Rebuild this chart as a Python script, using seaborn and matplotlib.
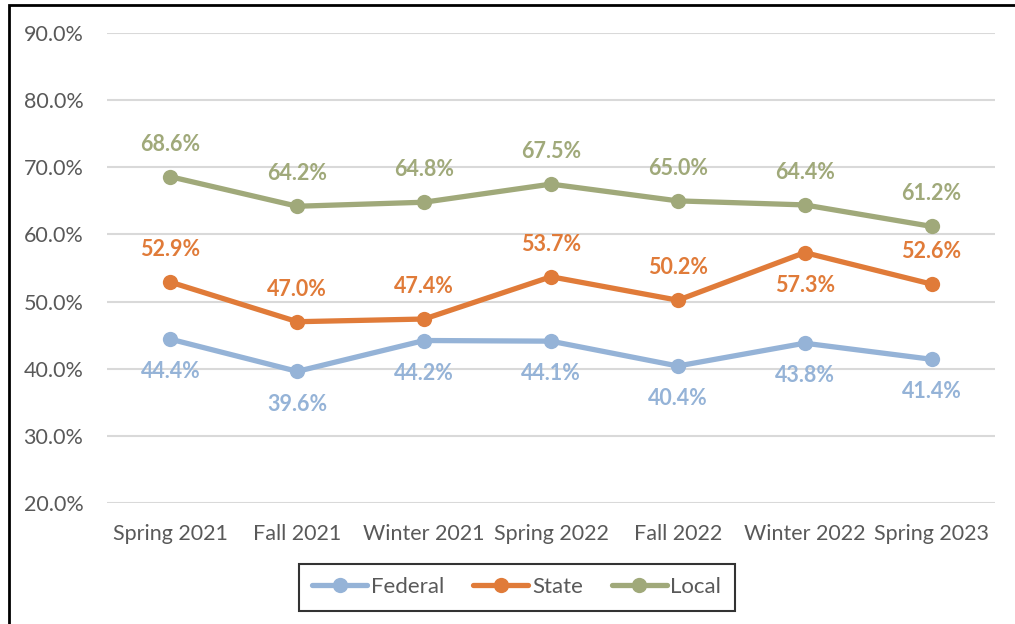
import pandas as pd
import numpy as np
import matplotlib.pyplot as plt
import matplotlib.patches as patches
import seaborn as sns

periods = ['Spring 2021', 'Fall 2021', 'Winter 2021', 'Spring 2022',
           'Fall 2022', 'Winter 2022', 'Spring 2023']
federal = [44.4, 39.6, 44.2, 44.1, 40.4, 43.8, 41.4]
state = [52.9, 47.0, 47.4, 53.7, 50.2, 57.3, 52.6]
local = [68.6, 64.2, 64.8, 67.5, 65.0, 64.4, 61.2]
y_ticks = [20, 30, 40, 50, 60, 70, 80, 90]

colors = {'Federal': '#95b3d7', 'State': '#e07b39', 'Local': '#a0a97a'}

df = pd.DataFrame({'period': periods * 3,
                   'level': ['Federal'] * 7 + ['State'] * 7 + ['Local'] * 7,
                   'value': federal + state + local})
df['pos'] = df.groupby('level').cumcount()

sns.set_style('white')
plt.rcParams['font.family'] = ['Lato', 'DejaVu Sans']

fig = plt.figure(figsize=(10.15, 6.24), dpi=100)
ax = fig.add_axes([0.1054, 0.194, 0.8749, 0.753])

sns.lineplot(data=df, x='pos', y='value', hue='level', palette=colors,
             hue_order=['Federal', 'State', 'Local'],
             marker='o', markersize=11, markeredgewidth=0, linewidth=3.8,
             ax=ax, legend=False, zorder=3)

# data labels
for name, vals, side in [('Federal', federal, -1), ('State', state, 1), ('Local', local, 1)]:
    for i, v in enumerate(vals):
        s = side
        if name == 'State' and periods[i] == 'Winter 2022':
            s = -1
        ax.annotate(f'{v:.1f}%', (i, v), xytext=(0, 23.5 * s), textcoords='offset points',
                    ha='center', va='center', fontsize=15.5, fontweight='bold',
                    color=colors[name])

ax.set_xlim(-0.5, 6.5)
ax.set_ylim(20, 90)
ax.set_xticks(range(len(periods)))
ax.set_xticklabels(periods)
ax.set_yticks(y_ticks)
ax.set_yticklabels([f'{t:.1f}%' for t in y_ticks])
ax.tick_params(axis='both', labelsize=15.5, colors='#595959', length=0)
ax.tick_params(axis='y', pad=17)
ax.tick_params(axis='x', pad=15)
ax.set_xlabel('')
ax.set_ylabel('')
ax.yaxis.grid(True, color='#d9d9d9', linewidth=1.5)
ax.set_axisbelow(True)
for sp in ax.spines.values():
    sp.set_visible(False)

handles = [plt.Line2D([0], [0], color=colors[k], lw=3.8, marker='o', markersize=11,
                      markeredgewidth=0) for k in ['Federal', 'State', 'Local']]
leg = fig.legend(handles, ['Federal', 'State', 'Local'], loc='center',
                 bbox_to_anchor=(0.509, 0.059), ncol=3, fontsize=16,
                 frameon=True, fancybox=False, edgecolor='black',
                 handlelength=2.5, handletextpad=0.15, columnspacing=1.3,
                 borderpad=0.6, labelcolor='#595959')
leg.get_frame().set_linewidth(1.5)

# outer border of the chart
fig.patches.append(patches.Rectangle((0.0085, -0.05), 1.1, 1.05 - 5 / 624,
                                     transform=fig.transFigure, fill=False,
                                     edgecolor='black', linewidth=2))

fig.savefig('out.png', dpi=100)
